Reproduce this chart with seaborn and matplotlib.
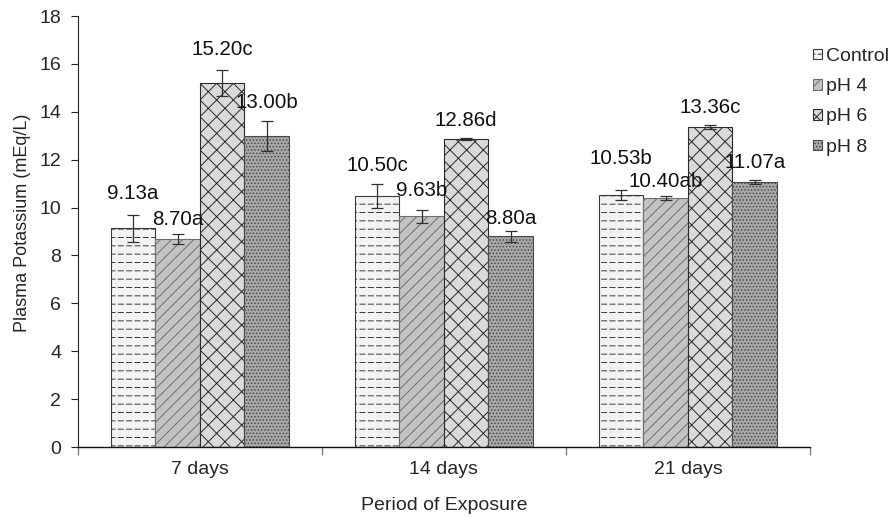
import numpy as np
import pandas as pd
import matplotlib
matplotlib.use("Agg")
import matplotlib.pyplot as plt
import seaborn as sns
from matplotlib import hatch as mhatch
from matplotlib.path import Path

# ---- data -------------------------------------------------------------
periods = ["7 days", "14 days", "21 days"]
treatments = ["Control", "pH 4", "pH 6", "pH 8"]

control = [9.13, 10.50, 10.53]
ph4 = [8.70, 9.63, 10.40]
ph6 = [15.20, 12.86, 13.36]
ph8 = [13.00, 8.80, 11.07]

control_se = [0.58, 0.50, 0.22]
ph4_se = [0.20, 0.28, 0.10]
ph6_se = [0.55, 0.03, 0.08]
ph8_se = [0.62, 0.24, 0.07]

control_sig = ["a", "c", "b"]
ph4_sig = ["a", "b", "ab"]
ph6_sig = ["c", "d", "c"]
ph8_sig = ["b", "a", "a"]

# ---- styling ----------------------------------------------------------
fills = {"Control": "#f3f3f3", "pH 4": "#c3c3c3", "pH 6": "#dadada", "pH 8": "#a8a8a8"}
hatches = {"Control": "--", "pH 4": "///", "pH 6": "xx", "pH 8": "....."}
hatch_colors = {"Control": "#3a3a3a", "pH 4": "#6e6e6e", "pH 6": "#2a2a2a", "pH 8": "#4a4a4a"}
# vertical gap (px) between error-bar top and label baseline
label_lift = {
    "Control": [16, 13, 26],
    "pH 4": [9, 14, 9],
    "pH 6": [15, 12, 12],
    "pH 8": [13, 7, 12],
}


class DashedHorizontalHatch(mhatch.HatchPatternBase):
    """Horizontal hatch drawn as rows of short dashes."""
    dashes = 12

    def __init__(self, hatch, density):
        self.num_lines = int((hatch.count('-') + hatch.count('+')) * density)
        self.num_vertices = self.num_lines * self.dashes * 2

    def set_vertices_and_codes(self, vertices, codes):
        rows, step = np.linspace(0.0, 1.0, self.num_lines, False, retstep=True)
        rows += step / 2.0
        period = 1.0 / self.dashes
        k = 0
        for y in rows:
            for i in range(self.dashes):
                s = i * period
                vertices[k] = (s + 0.2 * period, y)
                codes[k] = Path.MOVETO
                vertices[k + 1] = (s + 0.8 * period, y)
                codes[k + 1] = Path.LINETO
                k += 2


mhatch._hatch_types[mhatch._hatch_types.index(mhatch.HorizontalHatch)] = DashedHorizontalHatch

sns.set_style("ticks")
plt.rcParams["font.family"] = ["Liberation Sans", "DejaVu Sans"]
plt.rcParams["hatch.linewidth"] = 0.7
FS_TICK = 14
FS_NOTE = 14.8
FS_LEG = 14
FS_XLAB = 14
FS_YLAB = 13

values = {"Control": control, "pH 4": ph4, "pH 6": ph6, "pH 8": ph8}
errors = {"Control": control_se, "pH 4": ph4_se, "pH 6": ph6_se, "pH 8": ph8_se}
letters = {"Control": control_sig, "pH 4": ph4_sig, "pH 6": ph6_sig, "pH 8": ph8_sig}

df = pd.DataFrame(
    [(p, t, values[t][i]) for t in treatments for i, p in enumerate(periods)],
    columns=["period", "treatment", "value"],
)

fig, ax = plt.subplots(figsize=(8.95, 5.18), dpi=100)
fig.subplots_adjust(left=0.087, right=0.905, bottom=0.137, top=0.969)

sns.barplot(
    data=df, x="period", y="value", hue="treatment",
    order=periods, hue_order=treatments, palette=fills, saturation=1,
    width=0.73, errorbar=None, legend=False, linewidth=0.8,
    edgecolor="#4a4a4a", ax=ax,
)

bar_containers = list(ax.containers)
for t, cont in zip(treatments, bar_containers):
    xs, hs = [], []
    for patch in cont.patches:
        patch.set_hatch(hatches[t])
        patch.set_edgecolor(hatch_colors[t])
        xs.append(patch.get_x() + patch.get_width() / 2)
        hs.append(patch.get_height())
    ax.errorbar(xs, hs, yerr=errors[t], fmt="none", ecolor="#303030",
                elinewidth=0.9, capsize=4, capthick=0.9, zorder=5)
    for i, (x, h) in enumerate(zip(xs, hs)):
        ax.annotate(f"{h:.2f}{letters[t][i]}", xy=(x, h + errors[t][i]),
                    xytext=(0, label_lift[t][i] * 0.72), textcoords="offset points",
                    ha="center", va="baseline", fontsize=FS_NOTE, color="#111111")

# axes
ax.set_ylim(0, 18)
ax.set_yticks(np.arange(0, 19, 2))
ax.set_xlim(-0.5, 2.5)
ax.set_xticks([-0.5, 0.5, 1.5, 2.5])
ax.set_xticklabels([""] * 4)
ax.set_xticks([0, 1, 2], minor=True)
ax.set_xticklabels(periods, minor=True)
ax.tick_params(axis="x", which="major", length=6, color="#808080", width=1)
ax.tick_params(axis="x", which="minor", length=0, pad=10, labelsize=FS_TICK)
ax.tick_params(axis="y", length=5, width=0.8, color="#222222", pad=7, labelsize=FS_TICK)

for side in ("top", "right"):
    ax.spines[side].set_visible(False)
ax.spines["left"].set_color("#222222")
ax.spines["left"].set_linewidth(0.8)
ax.spines["bottom"].set_color("#111111")
ax.spines["bottom"].set_linewidth(1.0)

ax.set_ylabel("Plasma Potassium (mEq/L)", fontsize=FS_YLAB)
ax.yaxis.set_label_coords(-0.064, 0.52)
ax.set_xlabel("Period of Exposure", fontsize=FS_XLAB, labelpad=14)

fig.legend(
    [c.patches[0] for c in bar_containers], treatments,
    loc="upper left", bbox_to_anchor=(813 / 895, 1 - 48 / 518),
    frameon=False, fontsize=FS_LEG, handlelength=0.45, handleheight=0.45,
    handletextpad=0.2, labelspacing=0.68, borderpad=0, borderaxespad=0,
)

fig.savefig("out.png", dpi=100)
